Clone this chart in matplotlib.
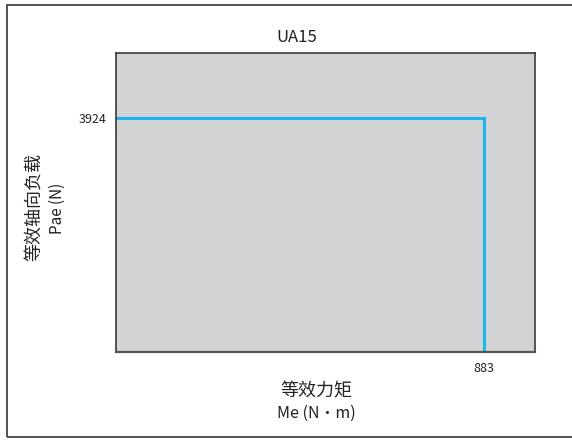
import matplotlib
matplotlib.use('Agg')
import matplotlib.pyplot as plt
from matplotlib.patches import Rectangle

plt.rcParams['font.family'] = ['Noto Sans CJK SC', 'DejaVu Sans']

# data
model = 'UA15'
moment_max = 883      # Me (N·m)
axial_max = 3924      # Pae (N)
x_label_cn = '等效力矩'
x_label_en = 'Me (N·m)'
y_label_cn = '等效轴向负载'
y_label_en = 'Pae (N)'

W, H = 572, 441
txt = '#222222'

def px( x, y ) :
	return x / W, 1 - y / H

fig = plt.figure( figsize = ( W / 100, H / 100 ), dpi = 100 )

# outer frame (right side runs off the image)
fig.patches.append( Rectangle( px( 7, 437 ), 600 / W, 432 / H,
		transform = fig.transFigure, fill = False, edgecolor = '#444444', lw = 1.3 ) )

ax = fig.add_axes( [ 116 / W, 1 - 352 / H, 419 / W, 299 / H ] )
ax.set_facecolor( '#d1d3d4' )

ax.plot( [ 0, moment_max, moment_max ], [ axial_max, axial_max, 0 ],
		color = '#19b5ec', lw = 2.2, solid_joinstyle = 'miter' )

ax.set_xlim( 0, 1005 )
ax.set_ylim( 0, 5010 )

ax.set_xticks( [ moment_max ] )
ax.set_yticks( [ axial_max ] )
ax.tick_params( length = 0, labelsize = 9, colors = txt )
ax.tick_params( axis = 'y', pad = 7 )
ax.tick_params( axis = 'x', pad = 7 )

for s in ax.spines.values() :
	s.set_color( '#2a2a2a' )
	s.set_linewidth( 1.1 )
ax.spines['bottom'].set_color( '#555555' )
ax.spines['bottom'].set_linewidth( 1.6 )

fig.text( *px( 297, 38 ), model, fontsize = 12, color = txt, ha = 'center', va = 'center' )

fig.text( *px( 316, 391 ), x_label_cn, fontsize = 13, color = txt, ha = 'center', va = 'center' )
fig.text( *px( 316, 413 ), x_label_en, fontsize = 11.5, color = txt, ha = 'center', va = 'center' )

fig.text( *px( 34, 207 ), y_label_cn, fontsize = 13, color = txt, ha = 'center', va = 'center',
		rotation = 90 )
fig.text( *px( 57, 208 ), y_label_en, fontsize = 11, color = txt, ha = 'center', va = 'center',
		rotation = 90 )

fig.savefig( 'out.png', dpi = 100 )
